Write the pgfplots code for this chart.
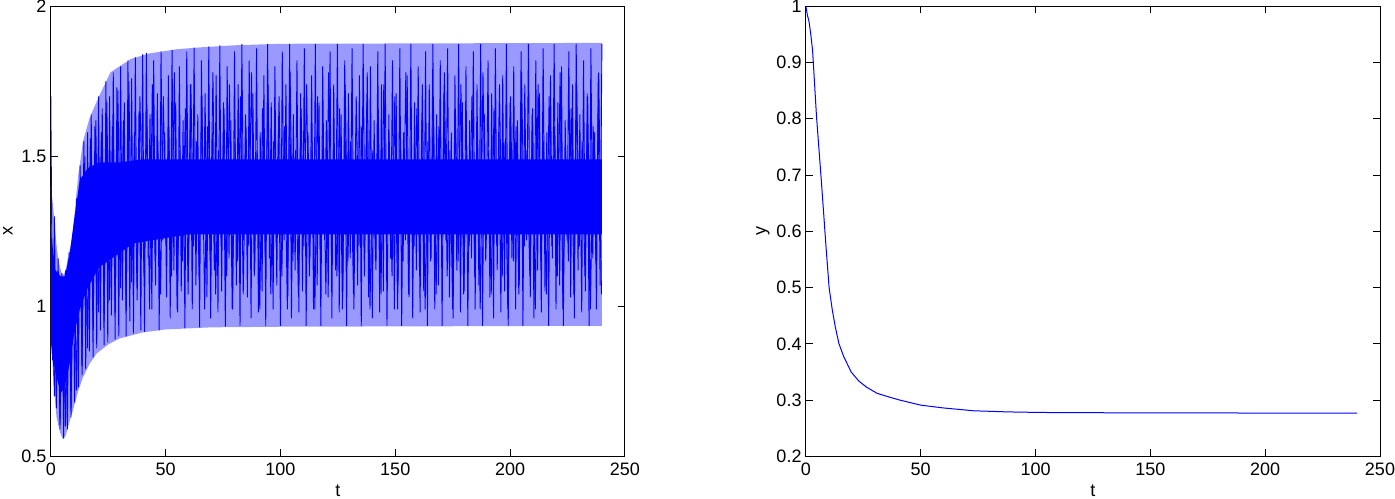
\documentclass[border=0pt]{standalone}
\usepackage{fontspec}
\setmainfont{Liberation Sans}
\usepackage{pgfplots}
\pgfplotsset{compat=1.18}

\pgfplotsset{matlab/.style={
  scale only axis, width=287pt, height=225pt,
  xmin=0, xmax=250, xtick={0,50,100,150,200,250},
  tick align=inside, major tick length=3.5pt,
  axis line style={line width=0.5pt},
  every tick/.style={black, line width=0.5pt},
  tick label style={font=\fontsize{9}{10}\selectfont},
  label style={font=\fontsize{9}{10}\selectfont},
  xticklabel style={inner xsep=0pt},
  yticklabel style={inner xsep=2pt, inner ysep=0pt},
  /pgf/number format/assume math mode=true,
  xlabel={t},
  xlabel style={at={(axis description cs:0.5,-0.0756)}, anchor=center, inner sep=1pt},
  ylabel style={at={(axis description cs:-0.075,0.5)}, anchor=center, inner sep=1.5pt},
}}

\begin{document}
\begin{tikzpicture}
% left: x(t), fast oscillation
\begin{axis}[matlab, ymin=0.5, ymax=2, ytick={0.5,1,1.5,2}, ylabel={x}]
% envelope of the oscillation (light)
\addplot[fill=blue!40, draw=none] coordinates {
  (0,1.40) (0.8,1.35) (1.6,1.28) (2.4,1.21) (3.2,1.16) (4,1.13) (4.8,1.11)
  (5.6,1.105) (6.4,1.12) (7.2,1.15) (8,1.18) (8.8,1.21) (9.6,1.25) (10.4,1.31)
  (11.2,1.38) (12,1.44) (12.8,1.48) (14,1.55) (17,1.63) (21,1.70) (26,1.78)
  (30,1.80) (35,1.825) (43,1.843) (55,1.857) (65,1.863) (80,1.87) (100,1.875)
  (240,1.878)
  (240,0.935) (100,0.932) (70,0.93) (50,0.923) (40,0.913) (30,0.893) (25,0.873)
  (20,0.843) (17,0.81) (14,0.763) (12,0.72) (10,0.663) (8,0.61) (6.5,0.57)
  (5.3,0.557) (4,0.58) (2.5,0.63) (1.3,0.74) (0.5,0.84) (0,0.85)};
% dense core
\addplot[fill=blue, draw=none] coordinates {
  (0,1.25) (2,1.12) (4.3,1.10) (6,1.10) (8,1.16) (10,1.28) (12.6,1.42)
  (16,1.46) (21,1.48) (30,1.48) (40,1.49) (240,1.49)
  (240,1.24) (60,1.24) (36,1.21) (21,1.13) (16,1.06) (12.6,0.99) (10,0.90)
  (8,0.80) (6,0.73) (4.3,0.71) (2,0.78) (0,0.88)};
% oscillation strokes, first component
\addplot[blue, line width=0.45pt] coordinates {
(0,1.70) (0.8,0.82) (1.6,1.30) (2.4,0.66) (3.2,1.16) (4.0,0.59) (4.8,1.11)
(5.6,0.56) (6.4,1.12) (7.2,0.59) (8.0,1.18) (8.8,0.63) (9.6,1.24) (10.4,0.68)
(11.2,1.36) (12.0,0.73) (12.8,1.47) (13.6,0.77) (14.4,1.55) (15.2,0.79)
(16.0,1.58) (16.8,0.85) (17.6,1.64) (18.4,0.83) (19.2,1.60) (20.0,0.86)
(20.8,1.70) (21.6,0.92) (22.4,1.66) (23.2,0.87) (24.0,1.75) (24.8,0.88)
(25.6,1.70) (26.4,0.97) (27.2,1.78) (28.0,0.89) (28.8,1.73) (29.6,0.90)
(30.4,1.80) (31.2,1.02) (32.0,1.68) (32.8,0.90) (33.6,1.82) (34.4,0.95)
(35.2,1.76) (36.0,0.91) (36.8,1.83) (37.6,1.08) (38.4,1.65) (39.2,0.92)
(40.0,1.84)
(40.8,0.915) (41.6,1.845) (42.4,1.16) (43.2,1.64) (44.0,0.99) (44.8,1.82)
(45.6,1.07) (46.4,1.71) (47.2,0.92) (48.0,1.85) (48.8,1.22) (49.6,1.58)
(50.4,1.03) (51.2,1.77) (52.0,0.96) (52.8,1.855) (53.6,1.12) (54.4,1.68)
(55.2,0.98) (56.0,1.80) (56.8,1.05) (57.6,1.62) (58.4,0.927) (59.2,1.85)
(60.0,1.16) (60.8,1.74) (61.6,0.99) (62.4,1.862) (63.2,1.07) (64.0,1.64)
(64.8,0.93) (65.6,1.82) (66.4,1.22) (67.2,1.71) (68.0,1.03) (68.8,1.866)
(69.6,0.96) (70.4,1.58) (71.2,1.12) (72.0,1.77) (72.8,0.98) (73.6,1.87)
(74.4,1.05) (75.2,1.68) (76.0,0.932) (76.8,1.80) (77.6,1.16) (78.4,1.62)
(79.2,0.99) (80.0,1.85) (80.8,1.07) (81.6,1.74) (82.4,0.935) (83.2,1.875)
(84.0,1.22) (84.8,1.64) (85.6,1.03) (86.4,1.82) (87.2,0.96) (88.0,1.71)
(88.8,1.12) (89.6,1.86) (90.4,0.98) (91.2,1.58) (92.0,1.05) (92.8,1.77)
(93.6,0.935) (94.4,1.875) (95.2,1.16) (96.0,1.68) (96.8,0.99) (97.6,1.80)
(98.4,1.07) (99.2,1.62) (100.0,0.935) (100.8,1.85) (101.6,1.22) (102.4,1.74)
(103.2,1.03) (104.0,1.875) (104.8,0.96) (105.6,1.64) (106.4,1.12) (107.2,1.82)
(108.0,0.98) (108.8,1.71) (109.6,1.05) (110.4,1.86) (111.2,0.935) (112.0,1.58)
(112.8,1.16) (113.6,1.77) (114.4,0.99) (115.2,1.875) (116.0,1.07) (116.8,1.68)
(117.6,0.935) (118.4,1.80) (119.2,1.22) (120.0,1.62) (120.8,1.03) (121.6,1.85)
(122.4,0.96) (123.2,1.74) (124.0,1.12) (124.8,1.875) (125.6,0.98) (126.4,1.64)
(127.2,1.05) (128.0,1.82) (128.8,0.935) (129.6,1.71) (130.4,1.16) (131.2,1.86)
(132.0,0.99) (132.8,1.58) (133.6,1.07) (134.4,1.77) (135.2,0.935) (136.0,1.875)
(136.8,1.22) (137.6,1.68) (138.4,1.03) (139.2,1.80) (140.0,0.96) (140.8,1.62)
(141.6,1.12) (142.4,1.85) (143.2,0.98) (144.0,1.74) (144.8,1.05) (145.6,1.875)
(146.4,0.935) (147.2,1.64) (148.0,1.16) (148.8,1.82) (149.6,0.99) (150.4,1.71)
(151.2,1.07) (152.0,1.86) (152.8,0.935) (153.6,1.58) (154.4,1.22) (155.2,1.77)
(156.0,1.03) (156.8,1.875) (157.6,0.96) (158.4,1.68) (159.2,1.12) (160.0,1.80)
(160.8,0.98) (161.6,1.62) (162.4,1.05) (163.2,1.85) (164.0,0.935) (164.8,1.74)
(165.6,1.16) (166.4,1.875) (167.2,0.99) (168.0,1.64) (168.8,1.07) (169.6,1.82)
(170.4,0.935) (171.2,1.71) (172.0,1.22) (172.8,1.86) (173.6,1.03) (174.4,1.58)
(175.2,0.96) (176.0,1.77) (176.8,1.12) (177.6,1.875) (178.4,0.98) (179.2,1.68)
(180.0,1.05) (180.8,1.80) (181.6,0.935) (182.4,1.62) (183.2,1.16) (184.0,1.85)
(184.8,0.99) (185.6,1.74) (186.4,1.07) (187.2,1.875) (188.0,0.935) (188.8,1.64)
(189.6,1.22) (190.4,1.82) (191.2,1.03) (192.0,1.71) (192.8,0.96) (193.6,1.86)
(194.4,1.12) (195.2,1.58) (196.0,0.98) (196.8,1.77) (197.6,1.05) (198.4,1.875)
(199.2,0.935) (200.0,1.68) (200.8,1.16) (201.6,1.80) (202.4,0.99) (203.2,1.62)
(204.0,1.07) (204.8,1.85) (205.6,0.935) (206.4,1.74) (207.2,1.22) (208.0,1.875)
(208.8,1.03) (209.6,1.64) (210.4,0.96) (211.2,1.82) (212.0,1.12) (212.8,1.71)
(213.6,0.98) (214.4,1.86) (215.2,1.05) (216.0,1.58) (216.8,0.935) (217.6,1.77)
(218.4,1.16) (219.2,1.875) (220.0,0.99) (220.8,1.68) (221.6,1.07) (222.4,1.80)
(223.2,0.935) (224.0,1.62) (224.8,1.22) (225.6,1.85) (226.4,1.03) (227.2,1.74)
(228.0,0.96) (228.8,1.875) (229.6,1.12) (230.4,1.64) (231.2,0.98) (232.0,1.82)
(232.8,1.05) (233.6,1.71) (234.4,0.935) (235.2,1.86) (236.0,1.16) (236.8,1.58)
(237.6,0.99) (238.4,1.77) (239.2,1.07) (240.0,1.875)};
% oscillation strokes, second component (smaller swings)
\addplot[blue, line width=0.45pt] coordinates {
(0.4,1.05) (1.6,0.70) (2.8,1.12) (4.0,0.62) (5.2,1.10) (6.4,0.60) (7.6,1.16)
(8.8,0.66) (10.0,1.22) (11.2,0.72) (12.4,1.40) (13.6,0.80) (14.8,1.50)
(16.0,0.86) (17.2,1.56) (18.4,0.92) (19.6,1.62) (20.8,0.98) (22.0,1.58)
(23.2,0.95) (24.4,1.68) (25.6,1.02) (26.8,1.60) (28.0,0.98) (29.2,1.72)
(30.4,1.06) (31.6,1.62) (32.8,1.00) (34.0,1.75) (35.2,1.08) (36.4,1.58)
(37.6,1.02) (38.8,1.70)
(40.6,1.10) (41.8,1.66) (43.0,0.99) (44.2,1.74) (45.4,1.15) (46.6,1.55)
(47.8,1.04) (49.0,1.70) (50.2,1.20) (51.4,1.60) (52.6,1.10) (53.8,1.78)
(55.0,0.99) (56.2,1.52) (57.4,1.15) (58.6,1.66) (59.8,1.04) (61.0,1.74)
(62.2,1.20) (63.4,1.55) (64.6,1.10) (65.8,1.70) (67.0,0.99) (68.2,1.60)
(69.4,1.15) (70.6,1.78) (71.8,1.04) (73.0,1.52) (74.2,1.20) (75.4,1.66)
(76.6,1.10) (77.8,1.74) (79.0,0.99) (80.2,1.55) (81.4,1.15) (82.6,1.70)
(83.8,1.04) (85.0,1.60) (86.2,1.20) (87.4,1.78) (88.6,1.10) (89.8,1.52)
(91.0,0.99) (92.2,1.66) (93.4,1.15) (94.6,1.74) (95.8,1.04) (97.0,1.55)
(98.2,1.20) (99.4,1.70) (100.6,1.10) (101.8,1.60) (103.0,0.99) (104.2,1.78)
(105.4,1.15) (106.6,1.52) (107.8,1.04) (109.0,1.66) (110.2,1.20) (111.4,1.74)
(112.6,1.10) (113.8,1.55) (115.0,0.99) (116.2,1.70) (117.4,1.15) (118.6,1.60)
(119.8,1.04) (121.0,1.78) (122.2,1.20) (123.4,1.52) (124.6,1.10) (125.8,1.66)
(127.0,0.99) (128.2,1.74) (129.4,1.15) (130.6,1.55) (131.8,1.04) (133.0,1.70)
(134.2,1.20) (135.4,1.60) (136.6,1.10) (137.8,1.78) (139.0,0.99) (140.2,1.52)
(141.4,1.15) (142.6,1.66) (143.8,1.04) (145.0,1.74) (146.2,1.20) (147.4,1.55)
(148.6,1.10) (149.8,1.70) (151.0,0.99) (152.2,1.60) (153.4,1.15) (154.6,1.78)
(155.8,1.04) (157.0,1.52) (158.2,1.20) (159.4,1.66) (160.6,1.10) (161.8,1.74)
(163.0,0.99) (164.2,1.55) (165.4,1.15) (166.6,1.70) (167.8,1.04) (169.0,1.60)
(170.2,1.20) (171.4,1.78) (172.6,1.10) (173.8,1.52) (175.0,0.99) (176.2,1.66)
(177.4,1.15) (178.6,1.74) (179.8,1.04) (181.0,1.55) (182.2,1.20) (183.4,1.70)
(184.6,1.10) (185.8,1.60) (187.0,0.99) (188.2,1.78) (189.4,1.15) (190.6,1.52)
(191.8,1.04) (193.0,1.66) (194.2,1.20) (195.4,1.74) (196.6,1.10) (197.8,1.55)
(199.0,0.99) (200.2,1.70) (201.4,1.15) (202.6,1.60) (203.8,1.04) (205.0,1.78)
(206.2,1.20) (207.4,1.52) (208.6,1.10) (209.8,1.66) (211.0,0.99) (212.2,1.74)
(213.4,1.15) (214.6,1.55) (215.8,1.04) (217.0,1.70) (218.2,1.20) (219.4,1.60)
(220.6,1.10) (221.8,1.78) (223.0,0.99) (224.2,1.52) (225.4,1.15) (226.6,1.66)
(227.8,1.04) (229.0,1.74) (230.2,1.20) (231.4,1.55) (232.6,1.10) (233.8,1.70)
(235.0,0.99) (236.2,1.60) (237.4,1.15) (238.6,1.78) (239.8,1.04)};
\end{axis}

% right: y(t)
\begin{axis}[matlab, at={(377.5pt,0pt)}, ymin=0.2, ymax=1,
  ytick={0.2,0.3,0.4,0.5,0.6,0.7,0.8,0.9,1}, ylabel={y}]
\addplot[blue, line width=0.5pt] coordinates {
  (0,1.0) (0.6,0.985) (1.3,0.974) (2,0.954) (2.9,0.922) (4.6,0.805)
  (6.8,0.685) (8.8,0.57) (10.1,0.50) (11.5,0.46) (12.8,0.43) (14.4,0.40)
  (16.5,0.377) (19.7,0.35) (23,0.334) (26.4,0.323) (31,0.312) (36.6,0.305)
  (40.9,0.300) (50,0.291) (60,0.286) (73,0.281) (88,0.279) (102,0.278)
  (130,0.2775) (160,0.2772) (200,0.277) (240,0.277)};
\end{axis}
\end{tikzpicture}
\end{document}
